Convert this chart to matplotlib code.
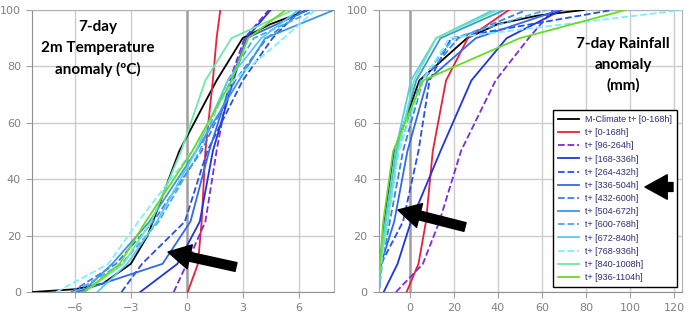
import numpy as np
import matplotlib
matplotlib.use("Agg")
import matplotlib.pyplot as plt

# probability levels (%) used by the ensemble CDFs
levels = [0, 10, 25, 50, 75, 90, 100]

labels = ["t+ [0-168h]", "t+ [96-264h]", "t+ [168-336h]", "t+ [264-432h]",
          "t+ [336-504h]", "t+ [432-600h]", "t+ [504-672h]", "t+ [600-768h]",
          "t+ [672-840h]", "t+ [768-936h]", "t+ [840-1008h]", "t+ [936-1104h]"]
colors = ["#e8203a", "#7b2be0", "#1f35e0", "#2a4fe0", "#3468ea", "#3a80e8",
          "#4094e6", "#46a8ee", "#56ccf2", "#7eeeff", "#6ee8a8", "#66dd22"]
styles = ["-", "--", "-", "--", "-", "--", "-", "--", "-", "--", "-", "-"]

# M-climate (black) curves
mclim_t_x = [-8.3, -6.0, -4.5, -3.0, -2.1, -0.4, 1.6, 3.0, 4.5, 6.5]
mclim_t_y = [0, 1, 3, 10, 20, 50, 75, 90, 95, 100]
mclim_r_x = [-14, -13.3, -11.5, -7, 4.4, 26, 40, 58, 79]
mclim_r_y = [0, 10, 25, 50, 75, 90, 95, 98, 100]

# 2m temperature anomaly (degC) at each level
temp = [
    [0.05, 0.6, 0.8, 1.0, 1.4, 1.6, 1.8],
    [-0.7, 0.0, 1.0, 1.6, 2.3, 3.1, 4.4],
    [-2.5, -0.5, 0.7, 1.4, 2.5, 3.2, 4.5],
    [-3.5, -2.4, -0.1, 1.1, 3.0, 4.6, 6.1],
    [-5.9, -1.3, 0.2, 1.2, 2.4, 3.2, 6.5],
    [-6.2, -3.8, -1.8, 0.8, 2.6, 4.3, 6.3],
    [-5.6, -4.0, -2.0, 0.5, 2.8, 4.2, 7.9],
    [-6.0, -3.5, -1.5, 0.7, 2.2, 3.6, 6.9],
    [-4.8, -3.2, -1.6, 0.5, 2.2, 4.0, 6.0],
    [-7.0, -4.2, -2.6, 0.3, 2.5, 5.2, 6.9],
    [-5.5, -3.4, -1.9, -0.3, 1.0, 2.4, 5.7],
    [-5.5, -3.6, -2.2, 0.3, 2.4, 3.3, 5.3],
]

# 7-day rainfall anomaly (mm) at each level
rain = [
    [-1.4, 4, 7.4, 10.5, 16.5, 26.4, 45],
    [-6.2, 6, 13.5, 23.3, 39, 54, 65],
    [-11.8, -5.5, 0.6, 14, 28, 44, 69],
    [-14, -13, -3, 4, 9, 18.8, 92],
    [-14, -13, -7, -1, 8, 30, 68],
    [-14, -12.5, -9, -3, 6, 22, 53],
    [-14, -13.5, -11, -6, 3, 14, 43],
    [-14, -13, -10, -5, 5, 20, 62],
    [-14, -13.5, -11, -6.5, 0.6, 12, 38],
    [-14, -13, -10, -5, 6, 18, 124],
    [-14, -13.5, -10, -5.5, 2, 12, 40],
    [-14, -13.5, -12, -7.5, 6, 50, 98],
]

fig = plt.figure(figsize=(6.9, 3.22), dpi=100)
ax1 = fig.add_axes([0.0464, 0.093, 0.4377, 0.876])
ax2 = fig.add_axes([0.549, 0.093, 0.4391, 0.876])


def style_axes(ax, xlim, xticks):
    ax.set_xlim(*xlim)
    ax.set_ylim(0, 100)
    ax.set_xticks(xticks)
    ax.set_yticks(range(0, 101, 20))
    ax.grid(True, color="#cccccc", lw=1.0)
    ax.set_axisbelow(True)
    ax.axvline(0, color="#a0a0a0", lw=1.8, zorder=1)
    for s in ax.spines.values():
        s.set_color("#b0b0b0")
    ax.spines["bottom"].set_color("#909090")
    ax.spines["left"].set_color("#909090")
    ax.tick_params(colors="#a0a0a0", labelcolor="#808080", labelsize=8,
                   length=4, width=0.8, pad=4)


style_axes(ax1, (-8.3, 7.9), [-6, -3, 0, 3, 6])
style_axes(ax2, (-14, 123.5), [0, 20, 40, 60, 80, 100, 120])

ax1.plot(mclim_t_x, mclim_t_y, color="black", lw=1.3, zorder=3)
ax2.plot(mclim_r_x, mclim_r_y, color="black", lw=1.3, zorder=3,
         label="M-Climate t+ [0-168h]")
for i in range(len(labels)):
    ax1.plot(temp[i], levels, color=colors[i], ls=styles[i], lw=1.3, zorder=3)
    ax2.plot(rain[i], levels, color=colors[i], ls=styles[i], lw=1.3, zorder=3,
             label=labels[i])

leg = ax2.legend(loc="lower right", bbox_to_anchor=(0.983, 0.018),
                 borderaxespad=0,
                 prop={"family": "Liberation Sans", "size": 6.5},
                 frameon=True, fancybox=False, edgecolor="black",
                 labelspacing=0.46, handlelength=2.4, handletextpad=0.6,
                 borderpad=0.55, labelcolor="#2c2c70", framealpha=1)
leg.get_frame().set_linewidth(1.0)

fig.text(0.142, 0.937, "7-day\n2m Temperature\nanomaly (ºC)", ha="center", va="top",
         fontsize=11, fontweight="bold", family="Lato", linespacing=1.6)
fig.text(0.903, 0.885, "7-day Rainfall\nanomaly\n(mm)", ha="center", va="top",
         fontsize=11, fontweight="bold", family="Lato", linespacing=1.6)

arrow_kw = dict(arrowstyle="simple,head_length=1.0,head_width=1.1,tail_width=0.4",
                fc="black", ec="black", shrinkA=0, shrinkB=0, mutation_scale=16)
ax1.annotate("", xy=(168, 70), xytext=(236, 55), xycoords="figure pixels",
             textcoords="figure pixels", arrowprops=arrow_kw, zorder=10)
ax2.annotate("", xy=(398, 112), xytext=(465, 95), xycoords="figure pixels",
             textcoords="figure pixels", arrowprops=arrow_kw, zorder=10)
ax2.annotate("", xy=(645, 135), xytext=(673, 135), xycoords="figure pixels",
             textcoords="figure pixels", arrowprops=arrow_kw, zorder=10)

fig.savefig("out.png", dpi=100)
